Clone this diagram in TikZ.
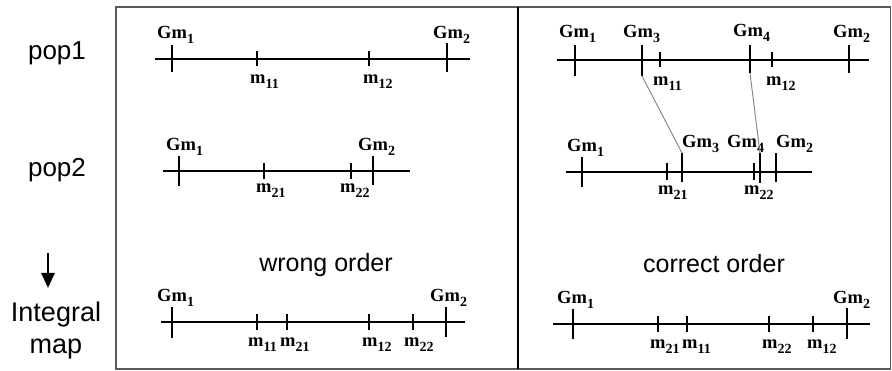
\documentclass[tikz,border=0pt]{standalone}
\usepackage{fontspec}
\setmainfont{Liberation Serif}
\newfontfamily\sidefont{Liberation Sans}
\usetikzlibrary{arrows.meta}
% lowered subscript in the label font
\newcommand\lowsub[1]{\raisebox{-0.22em}{\fontsize{14}{14}\selectfont #1}}
% a tick mark with named end points  #2 name, #3 x, #4 top, #5 bottom
\newcommand\tk[5][tickline]{\draw[#1] (#3,#4) coordinate (#2t) -- (#3,#5) coordinate (#2b);}
\begin{document}
\begin{tikzpicture}[x=1pt,y=-1pt,
  axisline/.style={line width=1.8pt},
  tickline/.style={line width=1.8pt},
  mtick/.style={line width=1.5pt},
  lab/.style={font=\fontsize{18.5}{19}\selectfont\bfseries, inner sep=0pt, anchor=base west},
  side/.style={font=\sidefont\fontsize{26}{28}\selectfont, inner sep=0pt, anchor=base},
  caption/.style={font=\sidefont\fontsize{25}{27}\selectfont, inner sep=0pt, anchor=base},
  link/.style={black!50, line width=0.9pt},
  frame/.style={black!65, line width=1.5pt}]
\useasboundingbox (0,0) rectangle (892,371);

% frame and divider
\draw[frame] (116,7) rectangle (890.5,369);
\draw[line width=1.3pt] (518,7) coordinate (divt) -- (518,369) coordinate (divb);

% side labels
\node[side] (pop1) at (57,60) {pop1};
\node[side] (pop2) at (57,177) {pop2};
\coordinate (arrs) at (48,253);
\coordinate (arre) at (48,288);
\draw[line width=2.6pt, -{Triangle[length=15pt,width=13pt]}] (arrs) -- (arre);
\node[side, font=\sidefont\fontsize{27}{28}\selectfont] (integral) at (56,322) {Integral};
\node[side, font=\sidefont\fontsize{27}{28}\selectfont] (map) at (56,354) {map};

% ---------- left panel ----------
% pop1
\draw[axisline] (155,59) coordinate (LAs) -- (470,59) coordinate (LAe);
\tk{LAg1}{172}{45}{72}
\tk[mtick]{LAm11}{257}{51}{66}
\tk[mtick]{LAm12}{369}{51}{66}
\tk{LAg2}{447}{43}{72}
\node[lab] (LAg1l) at (157,39) {Gm\lowsub{1}};
\node[lab] (LAg2l) at (433,39) {Gm\lowsub{2}};
\node[lab] (LAm11l) at (250,84) {m\lowsub{11}};
\node[lab] (LAm12l) at (363,84) {m\lowsub{12}};

% pop2
\draw[axisline] (163,171) coordinate (LBs) -- (410,171) coordinate (LBe);
\tk{LBg1}{179}{156}{186}
\tk[mtick]{LBm21}{264}{163}{179}
\tk[mtick]{LBm22}{351}{163}{179}
\tk{LBg2}{373}{156}{185}
\node[lab] (LBg1l) at (166,151) {Gm\lowsub{1}};
\node[lab] (LBg2l) at (358,151) {Gm\lowsub{2}};
\node[lab] (LBm21l) at (256,193) {m\lowsub{21}};
\node[lab] (LBm22l) at (340,193) {m\lowsub{22}};

% integral map
\node[caption] (wrong) at (326,272) {wrong order};
\draw[axisline] (161,322) coordinate (LCs) -- (465,322) coordinate (LCe);
\tk{LCg1}{172}{307}{338}
\tk[mtick]{LCm11}{257}{314}{330}
\tk[mtick]{LCm21}{287}{314}{330}
\tk[mtick]{LCm12}{369}{314}{330}
\tk[mtick]{LCm22}{413}{314}{330}
\tk{LCg2}{446}{307}{337}
\node[lab] (LCg1l) at (157,302) {Gm\lowsub{1}};
\node[lab] (LCg2l) at (430,302) {Gm\lowsub{2}};
\node[lab] (LCm11l) at (248,347) {m\lowsub{11}};
\node[lab] (LCm21l) at (280,347) {m\lowsub{21}};
\node[lab] (LCm12l) at (362,347) {m\lowsub{12}};
\node[lab] (LCm22l) at (404,347) {m\lowsub{22}};

% ---------- right panel ----------
% pop1
\draw[axisline] (557,60) coordinate (RAs) -- (869,60) coordinate (RAe);
\tk{RAg1}{575}{45}{76}
\tk{RAg3}{642}{45}{76}
\tk[mtick]{RAm11}{660}{52}{67}
\tk{RAg4}{750}{45}{73}
\tk[mtick]{RAm12}{772}{52}{67}
\tk{RAg2}{849}{45}{73}
\node[lab] (RAg1l) at (559,38) {Gm\lowsub{1}};
\node[lab] (RAg3l) at (623,38) {Gm\lowsub{3}};
\node[lab] (RAg4l) at (733,37) {Gm\lowsub{4}};
\node[lab] (RAg2l) at (833,38) {Gm\lowsub{2}};
\node[lab] (RAm11l) at (653,86) {m\lowsub{11}};
\node[lab] (RAm12l) at (766,86) {m\lowsub{12}};

% pop2
\draw[axisline] (566,172) coordinate (RBs) -- (812,172) coordinate (RBe);
\tk{RBg1}{582}{157}{187}
\tk[mtick]{RBm21}{667}{163}{180}
\tk{RBg3}{682}{153}{182}
\tk[mtick]{RBm22}{754}{163}{180}
\tk{RBg4}{760}{153}{183}
\tk{RBg2}{776}{153}{182}
\node[lab] (RBg1l) at (567,152) {Gm\lowsub{1}};
\node[lab] (RBg3l) at (682,148) {Gm\lowsub{3}};
\node[lab] (RBg4l) at (727,148) {Gm\lowsub{4}};
\node[lab] (RBg2l) at (776,148) {Gm\lowsub{2}};
\node[lab] (RBm21l) at (658,195) {m\lowsub{21}};
\node[lab] (RBm22l) at (744,195) {m\lowsub{22}};

% shared markers between the two populations
\draw[link] (RAg3b) -- (RBg3t);
\draw[link] (RAg4b) -- (RBg4t);

% integral map
\node[caption] (correct) at (714,273) {correct order};
\draw[axisline] (553,324) coordinate (RCs) -- (870,324) coordinate (RCe);
\tk{RCg1}{573}{309}{339}
\tk[mtick]{RCm21}{658}{316}{332}
\tk[mtick]{RCm11}{687}{316}{332}
\tk[mtick]{RCm22}{769}{316}{332}
\tk[mtick]{RCm12}{813}{316}{332}
\tk{RCg2}{847}{308}{339}
\node[lab] (RCg1l) at (557,304) {Gm\lowsub{1}};
\node[lab] (RCg2l) at (833,304) {Gm\lowsub{2}};
\node[lab] (RCm21l) at (650,349) {m\lowsub{21}};
\node[lab] (RCm11l) at (682,349) {m\lowsub{11}};
\node[lab] (RCm22l) at (762,349) {m\lowsub{22}};
\node[lab] (RCm12l) at (807,349) {m\lowsub{12}};
\end{tikzpicture}
\end{document}
